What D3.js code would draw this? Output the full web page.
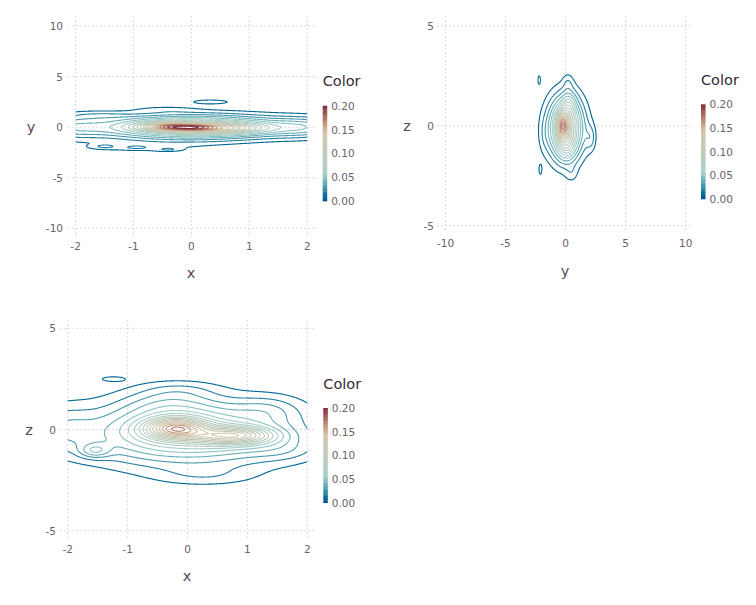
<!DOCTYPE html>
<html><head><meta charset="utf-8">
<script src="https://cdn.jsdelivr.net/npm/d3@7"></script>
<style>
body{margin:0;background:#fff}
svg{display:block}
text{font-family:"DejaVu Sans",sans-serif}
</style>
</head><body>
<svg id="c" width="756" height="605"></svg>
<script>
// ---------------- data ----------------
const xTicks = [-2, -1, 0, 1, 2];
const xTickLabels = ["-2", "-1", "0", "1", "2"];
const yTicks = [-10, -5, 0, 5, 10];
const yTickLabels = ["-10", "-5", "0", "5", "10"];
const zTicks = [-5, 0, 5];
const zTickLabels = ["-5", "0", "5"];
const colorTicks = [0, 0.05, 0.1, 0.15, 0.2];
const colorTickLabels = ["0.00", "0.05", "0.10", "0.15", "0.20"];
const contourLevels = [0.01,0.02,0.03,0.04,0.05,0.06,0.07,0.08,0.09,0.10,0.11,0.12,0.13,0.14,0.15,0.16,0.17,0.18,0.19,0.20];
const xyComponents = [
  [ 0.00,  0.00, 1.10, 0.80, 0.550],
  [-0.45,  0.05, 0.30, 0.28, 0.040],
  [ 0.05, -0.05, 0.30, 0.28, 0.040],
  [ 0.70, -0.10, 0.40, 0.35, 0.040],
  [-2.10,  0.00, 0.40, 0.80, 0.050],
  [ 2.00,  0.00, 0.45, 0.70, 0.060],
  [-1.60,  1.20, 0.35, 0.30, 0.006],
  [-1.00, -2.10, 0.90, 0.45, 0.024],
  [-1.50, -1.90, 0.15, 0.15, 0.002],
  [-0.95, -2.00, 0.15, 0.12, 0.0015],
  [-0.40, -2.20, 0.15, 0.12, 0.0015],
  [ 0.33,  2.50, 0.28, 0.18, 0.005],
  [-0.45,  1.75, 0.35, 0.20, 0.004]
];
const yzComponents = [
  [ 0.00, -0.10, 1.00, 1.05, 0.720],
  [-0.25,  0.00, 0.30, 0.45, 0.065],
  [ 0.30,  1.10, 0.40, 0.50, 0.025],
  [ 0.10, -1.10, 0.50, 0.50, 0.030],
  [ 2.10, -0.60, 0.30, 0.45, 0.015],
  [-1.80, -0.50, 0.30, 0.60, 0.006],
  [ 0.20,  2.20, 0.30, 0.30, 0.006],
  [ 0.50, -2.40, 0.35, 0.30, 0.006],
  [-2.20,  2.30, 0.12, 0.25, 0.0025],
  [-2.10, -2.20, 0.12, 0.25, 0.0025]
];
const xzComponents = [
  [ 0.00, -0.20, 1.20, 1.05, 0.580],
  [-0.20,  0.05, 0.35, 0.35, 0.075],
  [ 0.80, -0.30, 0.45, 0.30, 0.070],
  [-0.30,  1.30, 0.55, 0.60, 0.040],
  [-0.10,  2.00, 0.45, 0.30, 0.007],
  [-2.10,  0.10, 0.35, 0.80, 0.030],
  [-1.55, -1.05, 0.18, 0.25, 0.008],
  [-1.25,  2.50, 0.20, 0.12, 0.0018],
  [ 1.35,  1.00, 0.40, 0.50, 0.020],
  [ 0.30, -2.30, 0.60, 0.35, 0.015],
  [ 1.60, -1.00, 0.40, 0.40, 0.012]
];

// ---------------- helpers ----------------
const svg = d3.select("#c");
const TICK_COL = "#6c606b", TITLE_COL = "#564a55", KEY_COL = "#362a35", GRID_COL = "#D0D0E0";

function gadflyInterp(r) {
  r = Math.max(0, Math.min(1, r));
  const r2 = 2 * r - 1;
  return d3.lch(Math.min(80, 100 - 70 * Math.pow(Math.abs(r2), 1.5)),
                Math.max(10, 40 * Math.abs(r2)),
                (1 - r) * 260 + r * 10).formatHex();
}
const colorScale = d3.scaleSequential(gadflyInterp).domain([0, 0.2]);

function density(comps, a, b) {
  let s = 0;
  for (const [ca, cb, sa, sb, w] of comps) {
    const da = (a - ca) / sa, db = (b - cb) / sb;
    s += w / (2 * Math.PI * sa * sb) * Math.exp(-0.5 * (da * da + db * db));
  }
  return s;
}

let clipId = 0;
function panel(cfg) {
  const g = svg.append("g");
  const xs = d3.scaleLinear().domain(cfg.xd).range(cfg.xr);
  const ys = d3.scaleLinear().domain(cfg.yd).range(cfg.yr);
  g.selectAll(".vg").data(cfg.xt).join("line")
    .attr("x1", d => xs(d)).attr("x2", d => xs(d))
    .attr("y1", cfg.box[1]).attr("y2", cfg.box[3])
    .attr("stroke", GRID_COL).attr("stroke-width", 0.8).attr("stroke-dasharray", "2,2");
  g.selectAll(".hg").data(cfg.yt).join("line")
    .attr("y1", d => ys(d)).attr("y2", d => ys(d))
    .attr("x1", cfg.box[0]).attr("x2", cfg.box[2])
    .attr("stroke", GRID_COL).attr("stroke-width", 0.8).attr("stroke-dasharray", "2,2");
  g.selectAll(".xl").data(cfg.xt).join("text")
    .attr("x", d => xs(d)).attr("y", cfg.xLabY).attr("text-anchor", "middle")
    .attr("dominant-baseline", "central").attr("font-size", 10.5).attr("fill", TICK_COL)
    .text((d, i) => cfg.xtl[i]);
  g.selectAll(".yl").data(cfg.yt).join("text")
    .attr("x", cfg.yLabX).attr("y", d => ys(d)).attr("text-anchor", "end")
    .attr("dominant-baseline", "central").attr("font-size", 10.5).attr("fill", TICK_COL)
    .text((d, i) => cfg.ytl[i]);
  g.append("text").attr("x", cfg.xTitle[0]).attr("y", cfg.xTitle[1]).attr("text-anchor", "middle")
    .attr("dominant-baseline", "central").attr("font-size", 14.5).attr("fill", TITLE_COL).text(cfg.xName);
  g.append("text").attr("x", cfg.yTitle[0]).attr("y", cfg.yTitle[1]).attr("text-anchor", "middle")
    .attr("dominant-baseline", "central").attr("font-size", 14.5).attr("fill", TITLE_COL).text(cfg.yName);

  const px0 = Math.floor(xs(cfg.gx[0])), px1 = Math.ceil(xs(cfg.gx[1]));
  const py0 = Math.floor(ys(cfg.gy[1])), py1 = Math.ceil(ys(cfg.gy[0]));
  const step = 0.5;
  const n = Math.round((px1 - px0) / step) + 1, m = Math.round((py1 - py0) / step) + 1;
  const vals = new Float64Array(n * m);
  for (let j = 0; j < m; j++) {
    const b = ys.invert(py0 + j * step);
    for (let i = 0; i < n; i++) {
      vals[j * n + i] = density(cfg.comps, xs.invert(px0 + i * step), b);
    }
  }
  const cs = d3.contours().size([n, m]).thresholds(contourLevels)(vals);
  const path = d3.geoPath(d3.geoTransform({
    point(x, y) { this.stream.point(px0 + (x - 0.5) * step, py0 + (y - 0.5) * step); }
  }));
  const id = "clip" + (clipId++);
  const cx0 = cfg.clipX ? xs(cfg.clipX[0]) : cfg.box[0];
  const cx1 = cfg.clipX ? xs(cfg.clipX[1]) : cfg.box[2];
  svg.append("clipPath").attr("id", id).append("rect")
    .attr("x", cx0).attr("y", cfg.box[1]).attr("width", cx1 - cx0).attr("height", cfg.box[3] - cfg.box[1]);
  g.append("g").attr("clip-path", `url(#${id})`)
    .selectAll("path").data(cs).join("path")
    .attr("d", path).attr("fill", "none")
    .attr("stroke", d => colorScale(d.value)).attr("stroke-width", 1.1)
    .attr("stroke-linejoin", "round");

  const L = cfg.legend;
  g.append("text").attr("x", L.x).attr("y", L.titleY).attr("font-size", 14.5).attr("fill", KEY_COL).text("Color");
  const ls = d3.scaleLinear().domain([0, 0.2]).range([L.bottom, L.top]);
  const nb = 40;
  const bars = d3.range(nb).map(k => (k + 0.5) / nb * 0.2);
  g.selectAll(".cb").data(bars).join("rect")
    .attr("x", L.x).attr("width", 4.5)
    .attr("y", d => ls(d + 0.1 / nb)).attr("height", Math.abs(ls(0) - ls(0.2 / nb)) + 0.3)
    .attr("fill", d => colorScale(d));
  g.selectAll(".ct").data(colorTicks).join("text")
    .attr("x", L.x + 8.5).attr("y", d => ls(d)).attr("dominant-baseline", "central")
    .attr("font-size", 10.5).attr("fill", TICK_COL).text((d, i) => colorTickLabels[i]);
}

panel({
  xd: [-2, 2], xr: [75.6, 307.3], yd: [-10, 10], yr: [228.3, 26],
  xt: xTicks, xtl: xTickLabels, yt: yTicks, ytl: yTickLabels,
  box: [68, 16, 317, 237], xLabY: 246, yLabX: 63,
  xTitle: [191, 273], yTitle: [31, 127], xName: "x", yName: "y",
  gx: [-2.4, 2.4], gy: [-5, 5], clipX: [-2, 2], comps: xyComponents,
  legend: { x: 322.7, titleY: 86, top: 105.7, bottom: 201 }
});
panel({
  xd: [-10, 10], xr: [445.5, 685.7], yd: [-5, 5], yr: [225.7, 26],
  xt: yTicks, xtl: yTickLabels, yt: zTicks, ytl: zTickLabels,
  box: [437, 16, 693, 230], xLabY: 243, yLabX: 434,
  xTitle: [565, 271], yTitle: [407, 126], xName: "y", yName: "z",
  gx: [-6, 6], gy: [-4.8, 4.8], clipX: null, comps: yzComponents,
  legend: { x: 701, titleY: 84.5, top: 104.3, bottom: 199 }
});
panel({
  xd: [-2, 2], xr: [67.7, 307.3], yd: [-5, 5], yr: [530.7, 328.3],
  xt: xTicks, xtl: xTickLabels, yt: zTicks, ytl: zTickLabels,
  box: [60, 320, 315, 539], xLabY: 549, yLabX: 56,
  xTitle: [187, 576], yTitle: [29, 430], xName: "x", yName: "z",
  gx: [-2.4, 2.4], gy: [-4.8, 4.8], clipX: [-2, 2], comps: xzComponents,
  legend: { x: 323.3, titleY: 389, top: 408, bottom: 502.7 }
});
</script>
</body></html>
